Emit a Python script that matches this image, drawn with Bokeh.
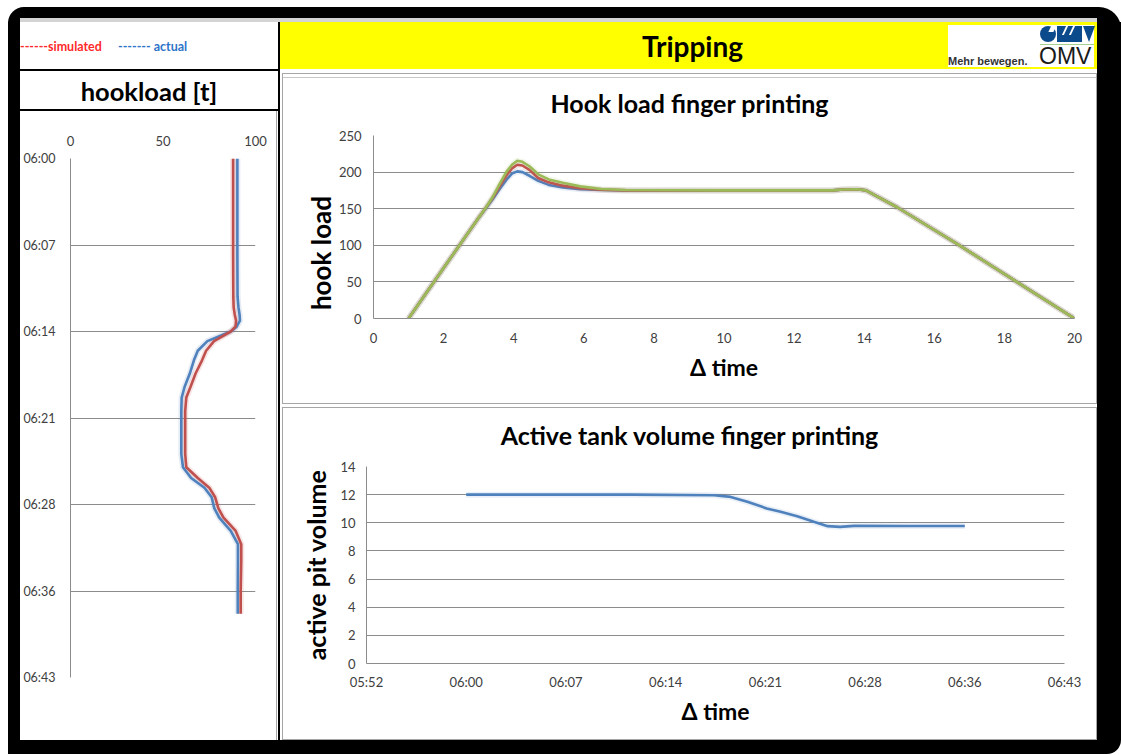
import pandas as pd
from bokeh.plotting import figure
from bokeh.layouts import row, column
from bokeh.models import Div, FixedTicker, Range1d, DatetimeTickFormatter
from bokeh.embed import file_html
from bokeh.resources import INLINE

# ---------------- data ----------------
legend_simulated = "------simulated"
legend_actual = "------- actual"
page_title = "Tripping"
left_title = "hookload [t]"

# left panel: hookload [t] against clock time (minutes after 06:00)
hookload_minutes = [0, 4, 8, 11.5, 12.4, 13.0, 13.5, 14.0, 14.4, 15.2, 16.0, 16.8, 17.9, 19.0,
                    19.9, 21.0, 23.0, 24.6, 25.7, 26.6, 27.4, 28.2, 29.1, 29.9, 31.0, 32.1,
                    33.5, 36.0, 37.9]
hookload_actual = [90.2, 90.2, 90.2, 90.3, 90.8, 91.4, 91.6, 89.8, 86.6, 74.0, 68.8, 66.7,
                   64.5, 61.7, 60.1, 59.9, 59.9, 59.9, 60.8, 65.2, 72.4, 76.3, 77.7, 80.4,
                   86.6, 90.5, 90.5, 90.4, 90.4]
hookload_simulated = [87.9, 87.9, 87.9, 88.0, 88.2, 88.8, 89.5, 89.2, 86.6, 77.6, 73.3, 71.1,
                      67.6, 64.9, 62.6, 62.0, 62.0, 62.0, 62.6, 68.8, 75.0, 78.2, 79.9, 82.7,
                      89.3, 92.3, 92.3, 92.0, 92.0]
hookload_ticks = [0, 50, 100]
clock_ticks_left = [0, 7.2, 14.4, 21.6, 28.8, 36.0, 43.2]  # minutes after 06:00

# top right: hook load finger printing
delta_time = [1.0, 2.0, 3.0, 3.2, 3.4, 3.6, 3.8, 3.95, 4.1, 4.25, 4.45, 4.7, 5.0, 5.4, 5.9,
              6.5, 7.2, 10.0, 13.1, 13.4, 13.8, 14.05, 14.3, 14.94, 16.65, 18.32, 20.0]
hook_blue = [0, 69, 137.5, 150, 163, 177, 190, 198, 201, 200, 195, 188, 182.5, 179, 176.5,
             175.5, 175, 175, 175, 176.2, 176.5, 175, 168.5, 152, 102, 51, 0]
hook_red = [0, 69, 137.5, 151, 165, 181, 196, 205, 210, 209, 203, 192, 186, 181.5, 178,
            176, 175, 175, 175, 176.2, 176.5, 175, 168.5, 152, 102, 51, 0]
hook_green = [0, 69, 137.5, 151, 166, 184, 201, 210, 215.5, 214, 208, 197, 190, 185.5, 180.5,
              177, 175.5, 175, 175, 176.2, 176.5, 175, 168.5, 152, 102, 51, 0]
delta_ticks = [0, 2, 4, 6, 8, 10, 12, 14, 16, 18, 20]
hook_ticks = [0, 50, 100, 150, 200, 250]

# bottom right: active tank volume finger printing (minutes after 06:00)
tank_minutes = [0, 6, 12, 17.9, 19.1, 20.3, 21.7, 22.7, 23.9, 25.1, 26.1, 27.0, 28.0, 32.0, 36.0]
tank_volume = [12.0, 12.0, 12.0, 11.96, 11.84, 11.49, 11.02, 10.78, 10.47, 10.07, 9.76,
               9.71, 9.78, 9.77, 9.77]
tank_ticks = [0, 2, 4, 6, 8, 10, 12, 14]
clock_ticks_bottom = [-7.2, 0, 7.2, 14.4, 21.6, 28.8, 36.0, 43.2]

# ---------------- helpers ----------------
FONT = "Lato"
GRID = "#8c8c8c"
BLUE, RED, GREEN = "#4F81BD", "#C0504D", "#9BBB59"
BASE_MS = pd.Timestamp("2013-01-01 06:00:00").value // 10**6


def to_ms(minutes):
    return [BASE_MS + int(round(m * 60000)) for m in minutes]


def block(w, h, bg="#ffffff"):
    return Div(text="", width=w, height=h, margin=0, styles={"background": bg})


def html(w, h, content):
    return Div(text=content, width=w, height=h, margin=0)


def clock_formatter():
    f = "%H:%M"
    return DatetimeTickFormatter(seconds=f, minsec=f, minutes=f, hourmin=f, hours=f,
                                 days=f, strip_leading_zeros=False)


def style_axis(ax, label_standoff, axis_standoff=8, show_line=True, label_size="23px",
               tick_size="13px"):
    ax.axis_line_color = GRID if show_line else None
    ax.major_tick_line_color = None
    ax.minor_tick_line_color = None
    ax.major_tick_out = 0
    ax.major_tick_in = 0
    ax.minor_tick_out = 0
    ax.major_label_text_font = FONT
    ax.major_label_text_font_size = tick_size
    ax.major_label_text_color = "#404040"
    ax.major_label_standoff = label_standoff
    ax.axis_label_text_font = FONT
    ax.axis_label_text_font_style = "bold"
    ax.axis_label_text_font_size = label_size
    ax.axis_label_text_color = "#000000"
    ax.axis_label_standoff = axis_standoff


def base_fig(**kw):
    p = figure(output_backend="svg", toolbar_location=None, **kw)
    p.outline_line_color = None
    p.background_fill_color = "#ffffff"
    p.border_fill_color = "#ffffff"
    return p


# ---------------- left chart: hookload vs clock time ----------------
left_t = to_ms(clock_ticks_left)
p0 = base_fig(width=256, height=629, x_range=Range1d(0, 100),
              y_range=Range1d(left_t[-1], left_t[0]), y_axis_type="datetime",
              x_axis_location="above",
              min_border_left=48, min_border_right=21, min_border_top=47, min_border_bottom=63)
p0.xaxis.ticker = FixedTicker(ticks=hookload_ticks)
p0.yaxis.ticker = FixedTicker(ticks=left_t)
p0.yaxis.formatter = clock_formatter()
style_axis(p0.xaxis[0], 13, show_line=False)
style_axis(p0.yaxis[0], 15, tick_size="12.5px")
p0.xgrid.visible = False
p0.ygrid.grid_line_color = GRID
hl_t = to_ms(hookload_minutes)
p0.line(hookload_actual, hl_t, line_color=BLUE, line_width=6, line_alpha=0.15)
p0.line(hookload_simulated, hl_t, line_color=RED, line_width=6, line_alpha=0.15)
p0.line(hookload_actual, hl_t, line_color=BLUE, line_width=2.6)
p0.line(hookload_simulated, hl_t, line_color=RED, line_width=2.6)

# ---------------- top right: hook load finger printing ----------------
# y-axis title is drawn in a narrow strip to the left (it sits below the frame centre)
p1 = base_fig(width=763, height=281, x_range=Range1d(0, 20), y_range=Range1d(0, 250),
              min_border_left=40, min_border_right=22, min_border_top=13, min_border_bottom=85)
p1.xaxis.ticker = FixedTicker(ticks=delta_ticks)
p1.yaxis.ticker = FixedTicker(ticks=hook_ticks)
style_axis(p1.xaxis[0], 14, 7)
style_axis(p1.yaxis[0], 12, 7)
p1.xaxis.axis_label = "Δ time"
p1.xgrid.visible = False
p1.ygrid.grid_line_color = GRID
for ys, c in ((hook_blue, BLUE), (hook_red, RED), (hook_green, GREEN)):
    p1.line(delta_time, ys, line_color=c, line_width=6, line_alpha=0.12)
    p1.line(delta_time, ys, line_color=c, line_width=2.6)

# ---------------- bottom right: active tank volume ----------------
bot_t = to_ms(clock_ticks_bottom)
p2 = base_fig(width=813, height=281, x_range=Range1d(bot_t[0], bot_t[-1]),
              y_range=Range1d(0, 14), x_axis_type="datetime",
              min_border_left=83, min_border_right=32, min_border_top=8, min_border_bottom=76)
p2.xaxis.ticker = FixedTicker(ticks=bot_t)
p2.xaxis.formatter = clock_formatter()
p2.yaxis.ticker = FixedTicker(ticks=tank_ticks)
style_axis(p2.xaxis[0], 10, 4)
style_axis(p2.yaxis[0], 11, 6, label_size="25px")
p2.xaxis.axis_label = "Δ time"
p2.yaxis.axis_label = "active pit volume"
p2.xgrid.visible = False
p2.ygrid.grid_line_color = GRID
p2.line(to_ms(tank_minutes), tank_volume, line_color=BLUE, line_width=6, line_alpha=0.12)
p2.line(to_ms(tank_minutes), tank_volume, line_color=BLUE, line_width=2.6)

# ---------------- page furniture ----------------
TXT = "font-family:Lato;font-weight:bold;color:#000;white-space:nowrap;"

top_frame = html(1121, 22, """
<div style="position:relative;width:1121px;height:22px;overflow:hidden;background:#fff;">
 <div style="position:absolute;left:8px;top:7px;width:1113px;height:60px;background:#000;border-radius:16px 22px 0 0;"></div>
 <div style="position:absolute;left:20px;top:18px;width:1077px;height:4px;background:#d4d4d4;"></div>
</div>""")

bottom_frame = html(1121, 15, """
<div style="position:relative;width:1121px;height:15px;overflow:hidden;background:#fff;">
 <div style="position:absolute;left:8px;top:-20px;width:1113px;height:34px;background:#000;border-radius:0 0 14px 0;"></div>
</div>""")

left_frame = block(20, 718, "linear-gradient(to right, #fff 0px, #fff 8px, #000 8px, #000 100%)")
right_frame = block(24, 718, "#000")

legend_div = html(258, 47, f"""
<div style="position:relative;width:258px;height:47px;background:#fff;overflow:hidden;">
 <div style="position:absolute;left:0;top:17px;line-height:16px;font-family:Lato;font-weight:bold;font-size:12.5px;color:#ff2a2a;white-space:nowrap;">{legend_simulated}</div>
 <div style="position:absolute;left:98px;top:17px;line-height:16px;font-family:Lato;font-weight:bold;font-size:12.5px;color:#2e74c9;white-space:nowrap;">{legend_actual}</div>
</div>""")

left_title_div = html(258, 38, f"""
<div style="width:258px;height:38px;line-height:40px;text-align:center;font-size:25.5px;{TXT}">{left_title}</div>""")

header_div = html(817, 47, f"""
<div style="position:relative;width:817px;height:47px;background:#ffff00;overflow:hidden;">
 <div style="position:absolute;left:4px;top:0;width:817px;height:47px;line-height:48px;text-align:center;font-size:28px;{TXT}">{page_title}</div>
 <div style="position:absolute;left:668px;top:3px;width:146px;height:42px;background:#fff;">
  <div style="position:absolute;left:0;top:30px;line-height:12px;font-family:'Liberation Sans';font-weight:bold;font-size:11px;color:#333;white-space:nowrap;">Mehr bewegen.</div>
  <div style="position:absolute;left:91px;top:20px;line-height:23px;font-family:'Liberation Sans';font-size:23px;color:#1a1a1a;white-space:nowrap;">OMV</div>
  <div style="position:absolute;left:92px;top:1px;width:16px;height:16px;border-radius:50%;background:#0b4a8b;"></div>
  <div style="position:absolute;left:102px;top:0px;width:5px;height:7px;background:#fff;transform:skewX(-25deg);"></div>
  <div style="position:absolute;left:109px;top:1px;width:25px;height:16px;background:#0b4a8b;"></div>
  <div style="position:absolute;left:116px;top:1px;width:2px;height:9px;background:#fff;transform:skewX(-25deg);"></div>
  <div style="position:absolute;left:123px;top:1px;width:2px;height:9px;background:#fff;transform:skewX(-25deg);"></div>
  <div style="position:absolute;left:135px;top:1px;width:0;height:0;border-left:6px solid transparent;border-right:6px solid transparent;border-top:16px solid #0b4a8b;"></div>
  <div style="position:absolute;left:92px;top:19px;width:54px;height:1px;background:#a8d08d;"></div>
 </div>
</div>""")

hook_ylabel = html(50, 281, f"""
<div style="position:relative;width:50px;height:281px;background:#fff;">
 <div style="position:absolute;left:38px;top:131px;transform:translate(-50%,-50%) rotate(-90deg);line-height:22px;font-size:26px;{TXT}">hook load</div>
</div>""")


def title_div(w, h, text, pad):
    return html(w, h, f"""
<div style="width:{w}px;height:{h}px;box-sizing:border-box;padding-top:{pad}px;line-height:30px;text-align:center;font-size:25px;{TXT}">{text}</div>""")


def boxed(child, w, h, color="#a6a6a6"):
    return row(block(1, h, color),
               column(block(w - 2, 1, color), child, block(w - 2, 1, color)),
               block(1, h, color))


top_panel = boxed(column(title_div(813, 48, "Hook load finger printing", 14),
                         row(hook_ylabel, p1)), 815, 331)
bottom_panel = boxed(column(title_div(813, 50, "Active tank volume finger printing", 12), p2), 815, 333)

panels = column(html(815, 4, '<div style="width:815px;height:4px;border-top:1px solid #c8c8c8;box-sizing:border-box;background:#fff;"></div>'),
                top_panel, block(815, 3), bottom_panel)
right_col = column(header_div, row(block(2, 671), panels))

left_chart = row(p0, block(1, 629, "#a6a6a6"), block(1, 629))
left_col = column(legend_div, block(258, 2, "#000"), left_title_div, block(258, 2, "#000"), left_chart)

content = row(left_col, block(2, 718, "#000"), right_col)
root = column(top_frame, row(left_frame, content, right_frame), bottom_frame)

open("out.html", "w").write(file_html(root, INLINE, title="Tripping"))
